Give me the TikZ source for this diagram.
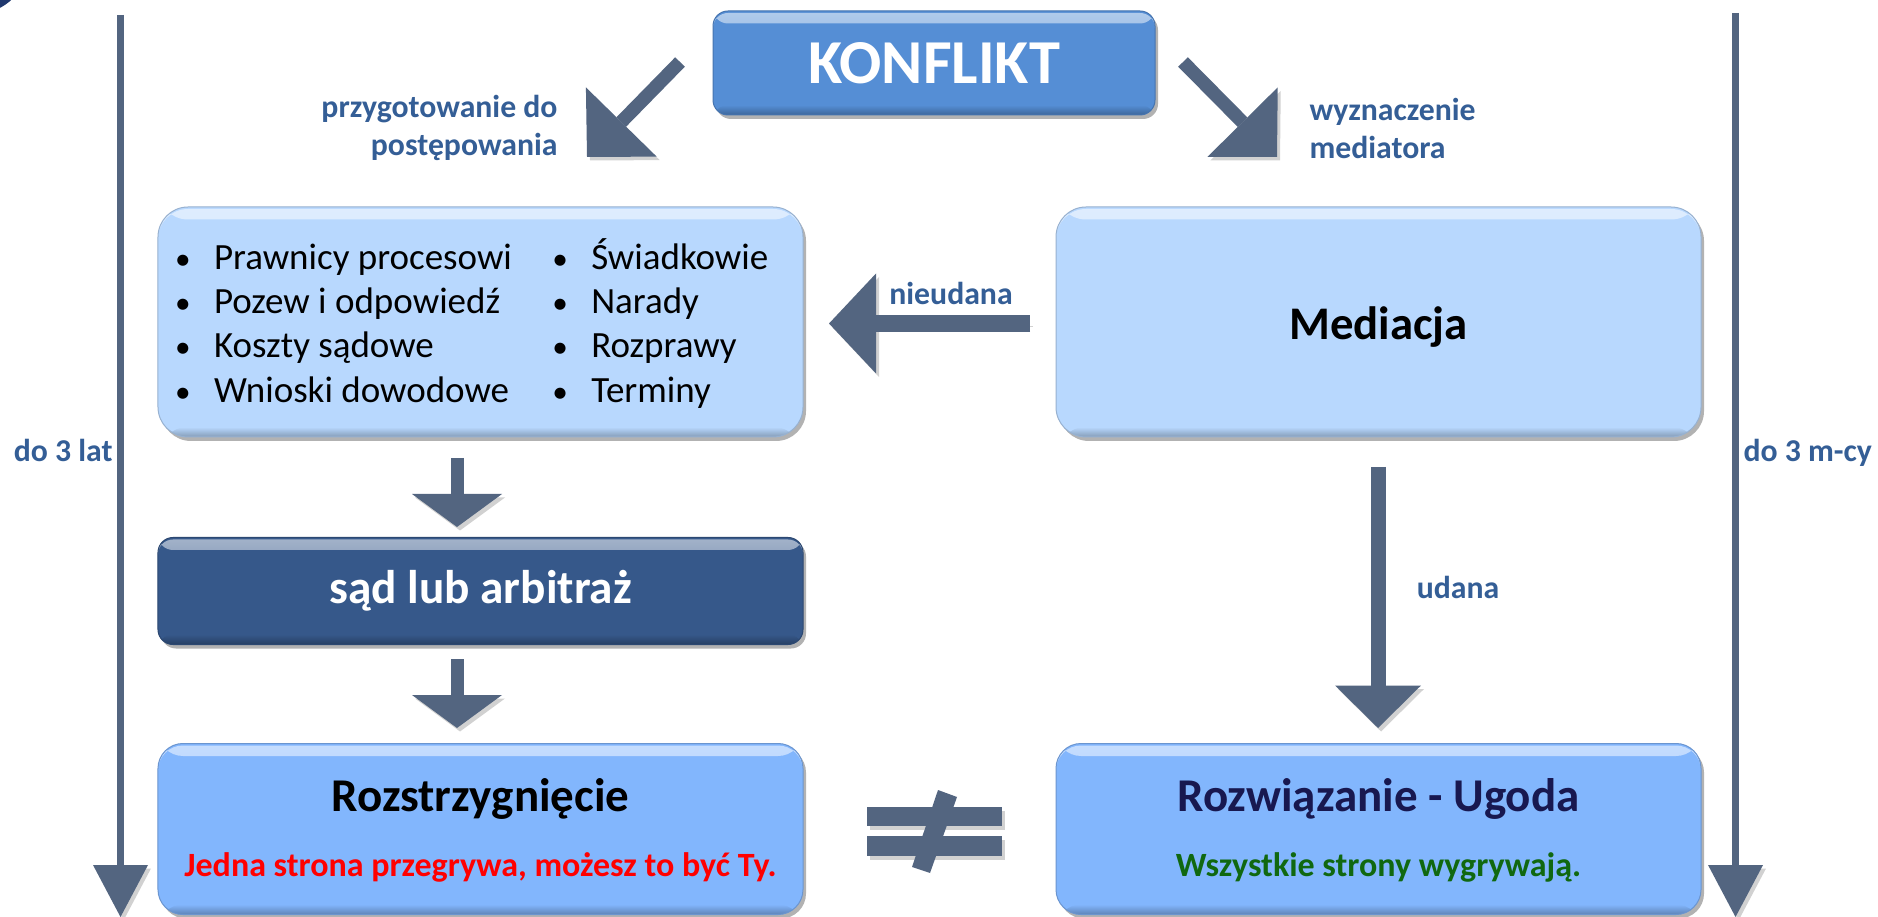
\documentclass[tikz,border=0pt]{standalone}
\usepackage{fontspec}
\setmainfont{Carlito}
\usetikzlibrary{arrows.meta,shadows,calc}
\definecolor{arrowgray}{RGB}{83,101,128}
\definecolor{labelblue}{RGB}{52,94,150}
\definecolor{konfblue}{RGB}{85,142,213}
\definecolor{lightbox}{RGB}{184,216,254}
\definecolor{midbox}{RGB}{130,182,253}
\definecolor{darkbox}{RGB}{54,88,138}
\definecolor{navytext}{RGB}{24,24,80}
\definecolor{greentext}{RGB}{16,104,16}
\definecolor{logoblue}{RGB}{31,56,110}
\newcommand\bulitem{\makebox[13.4pt][l]{\hspace*{-2.2pt}\fontsize{12.5}{12.5}\selectfont\textbullet}}
\begin{document}
\begin{tikzpicture}[x=0.4pt,y=-0.4pt,
  lbl/.style={text=labelblue, font=\bfseries\fontsize{12.7}{15.2}\selectfont, inner sep=0pt},
  boxbase/.style={fill=#1, draw=#1!82!black, line width=0.4pt, inner sep=0pt,
    drop shadow={shadow xshift=1.2pt, shadow yshift=-1.6pt, opacity=0.3, fill=black},
    path picture={
      \shade[top color=white, bottom color=#1, opacity=0.55]
        ([yshift=-0.8pt]path picture bounding box.north west) rectangle ([yshift=-5pt]path picture bounding box.north east);
      \shade[top color=#1, bottom color=#1!72!black]
        ([yshift=4pt]path picture bounding box.south west) rectangle (path picture bounding box.south east);
    }},
  ashadow/.style={preaction={draw=black, draw opacity=0.18, fill opacity=0.18, transform canvas={xshift=1.2pt,yshift=-1.4pt}}},
  diagarrow/.style={ashadow, draw=arrowgray, line width=5.4pt, -{Triangle[length=19.6pt,width=39.6pt,line width=0pt]}},
  sidearrow/.style={ashadow, draw=arrowgray, line width=6.8pt, -{Triangle[length=18.8pt,width=40pt,line width=0pt]}},
  smalldown/.style={ashadow, draw=arrowgray, line width=5.2pt, -{Triangle[length=13.2pt,width=36pt,line width=0pt]}},
  bigdown/.style={ashadow, draw=arrowgray, line width=6pt, -{Triangle[length=17pt,width=34.4pt,line width=0pt]}},
  timeline/.style={ashadow, draw=arrowgray, line width=2.8pt, -{Triangle[length=20.8pt,width=22pt,line width=0pt]}}
]
\useasboundingbox (0,0) rectangle (1878,917);
\fill[white] (0,0) rectangle (1878,917);
% corner logo fragment
\fill[logoblue] (-25,-40) circle (54);

% boxes
\node[boxbase=konfblue, minimum width=176.8pt, minimum height=41.6pt, rounded corners=6pt,
  text=white, font=\bfseries\fontsize{25}{30}\selectfont] (konflikt) at (934,63) {KONFLIKT};
\node[boxbase=lightbox, minimum width=258pt, minimum height=92pt, rounded corners=12pt] (lista) at (480.5,322) {};
\node[anchor=west, inner sep=0pt, font=\fontsize{14.8}{17.7}\selectfont] (listtxt) at (180,327)
  {\begin{tabular}{@{}p{150.9pt}@{}l@{}}
   \bulitem Prawnicy procesowi & \bulitem Świadkowie\\
   \bulitem Pozew i odpowiedź & \bulitem Narady\\
   \bulitem Koszty sądowe & \bulitem Rozprawy\\
   \bulitem Wnioski dowodowe & \bulitem Terminy
   \end{tabular}};
\node[boxbase=lightbox, minimum width=258pt, minimum height=92pt, rounded corners=12pt] (mediacja) at (1378.5,322) {};
\node[font=\bfseries\fontsize{18.7}{22}\selectfont, inner sep=0pt] (medtxt) at (1378.5,327) {Mediacja};
\node[boxbase=darkbox, minimum width=258pt, minimum height=42.8pt, rounded corners=6pt,
  text=white, font=\bfseries\fontsize{18.9}{22}\selectfont] (sad) at (480.5,591) {sąd lub arbitraż};
\node[boxbase=midbox, minimum width=258pt, minimum height=68.4pt, rounded corners=10pt] (rozstrz) at (480.5,829) {};
\node[boxbase=midbox, minimum width=258pt, minimum height=68.4pt, rounded corners=10pt] (ugoda) at (1378.5,829) {};

\node[anchor=base, inner sep=0pt, font=\bfseries\fontsize{18.8}{22}\selectfont] (rtitle) at (480.5,811) {Rozstrzygnięcie};
\node[anchor=base, inner sep=0pt, text=red, font=\bfseries\fontsize{13.6}{16}\selectfont] (rsub) at (480.5,876) {Jedna strona przegrywa, możesz to być Ty.};
\node[anchor=base, inner sep=0pt, text=navytext, font=\bfseries\fontsize{18.8}{22}\selectfont] (utitle) at (1378.5,811) {Rozwiązanie - Ugoda};
\node[anchor=base, inner sep=0pt, text=greentext, font=\bfseries\fontsize{13.6}{16}\selectfont] (usub) at (1378.5,876) {Wszystkie strony wygrywają.};

% labels
\node[lbl, anchor=east, align=right] (lprep) at (558,128) {przygotowanie do\\postępowania};
\node[lbl, anchor=west, align=left] (lwyzn) at (1309,128) {wyznaczenie\\mediatora};
\node[lbl, anchor=base] (lnieud) at (951,305) {nieudana};
\node[lbl, anchor=base] (ludana) at (1458,599) {udana};
\node[lbl, anchor=base east] (l3lat) at (113,462) {do 3 lat};
\node[lbl, anchor=base west] (l3mcy) at (1743,462) {do 3 m-cy};

% connector end points
\coordinate (dl1) at (680,62);
\coordinate (dl2) at (587,157);
\coordinate (dr1) at (1183,62);
\coordinate (dr2) at (1277,157);
\coordinate (ni1) at (1030,323.5);
\coordinate (ni2) at (829,323.5);
\coordinate (ls1) at (457,458);
\coordinate (ls2) at (457,527);
\coordinate (sr1) at (457,659);
\coordinate (sr2) at (457,728);
\coordinate (mu1) at (1378,467);
\coordinate (mu2) at (1378,728);
\coordinate (tl1) at (120.5,15);
\coordinate (tl2) at (120.5,917);
\coordinate (tr1) at (1735.5,13);
\coordinate (tr2) at (1735.5,917);

\draw[diagarrow] (dl1) -- (dl2);
\draw[diagarrow] (dr1) -- (dr2);
\draw[sidearrow] (ni1) -- (ni2);
\draw[smalldown] (ls1) -- (ls2);
\draw[smalldown] (sr1) -- (sr2);
\draw[bigdown] (mu1) -- (mu2);
\draw[timeline] (tl1) -- (tl2);
\draw[timeline] (tr1) -- (tr2);

% not-equal sign
\begin{scope}[transform canvas={xshift=1.2pt,yshift=-1.4pt}]
\fill[black, opacity=0.18] (867,807) rectangle (1002,826);
\fill[black, opacity=0.18] (867,836) rectangle (1002,856);
\end{scope}
\fill[arrowgray] (867,807) rectangle (1002,826);
\fill[arrowgray] (867,836) rectangle (1002,856);
\fill[arrowgray] (938,790) -- (957,797) -- (930,873) -- (912,867) -- cycle;
\end{tikzpicture}
\end{document}
